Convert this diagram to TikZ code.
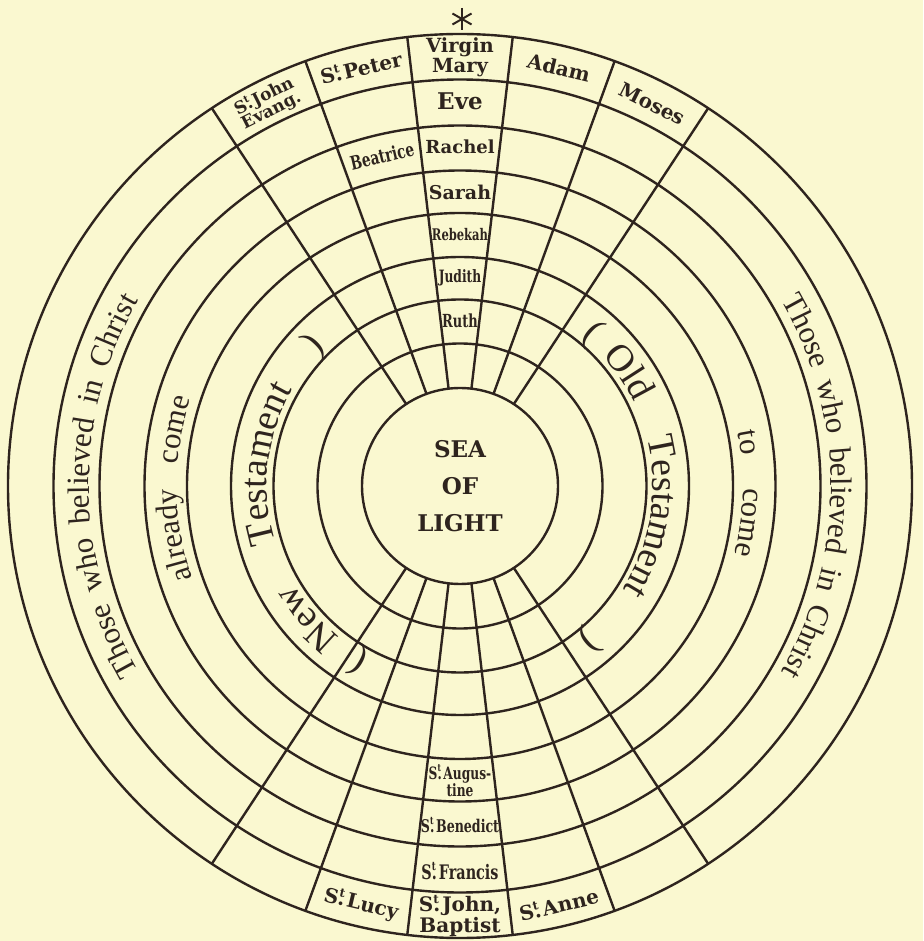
\documentclass[tikz,border=0pt]{standalone}
\usepackage{fontspec}
\usepackage{graphicx}
\usepackage{tikz}
\usetikzlibrary{decorations.text}

\definecolor{paper}{RGB}{250,248,208}
\definecolor{ink}{RGB}{46,36,30}

\newfontfamily\slabfont{DejaVu Serif}
\newfontfamily\narrowfont[FakeStretch=0.72]{DejaVu Serif}
\newfontfamily\ringserif{Liberation Serif}
\newcommand{\Snt}{S\rlap{\raisebox{.8ex}{\scalebox{.6}{t}}}.\kern.1em}
\newcommand{\ringfont}{\ringserif\fontsize{31}{31}\selectfont\color{ink}}
\newcommand{\testfont}{\ringserif\fontsize{38}{38}\selectfont\color{ink}}

\begin{document}
\begin{tikzpicture}[x=1pt, y=1pt,
        ring/.style={ink, line width=2.4pt},
        spoke/.style={ink, line width=2.4pt},
        cell/.style={inner sep=0pt, align=center, text=ink,
            font=\slabfont\bfseries\fontsize{20}{18}\selectfont},
        bigcell/.style={cell, font=\slabfont\bfseries\fontsize{19}{19}\selectfont},
        narrowcell/.style={cell, font=\narrowfont\bfseries\fontsize{17}{15}\selectfont},
        arctext/.style={decorate, decoration={text along path,
            text align={fit to path stretching spaces}, text={#1}}},
        arcword/.style={decorate, decoration={text along path,
            text align=center, text={#1}}}]
        \useasboundingbox (-460,-455) rectangle (463,486);
        \fill[paper] (-460,-455) rectangle (463,486);

        % the nine circles
        \foreach \r in {98,142.5,186.5,229,273,315.5,360.5,406.5,452}
            \draw[ring] (0,0) circle[radius=\r pt];

        % spokes above and below
        \foreach \a in {56.7,70,83.3,96.7,110,123.3,236.7,250,263.3,276.7,290,303.3}
            \draw[spoke] (\a:98pt) -- (\a:452pt);

        % star at the top
        \begin{scope}[shift={(2,467)}]
            \foreach \a in {90,30,150}
                \draw[ink, line width=2pt] (\a:11pt) -- (\a+180:11pt);
        \end{scope}

        \node[cell, font=\slabfont\bfseries\fontsize{23}{37}\selectfont] (sea) at (0,0) {SEA\\OF\\LIGHT};

        % top column
        \node[cell, font=\slabfont\bfseries\fontsize{19.5}{18}\selectfont] (mary) at (90:429pt) {Virgin\\Mary};
        \node[bigcell, font=\slabfont\bfseries\fontsize{23}{23}\selectfont] (eve) at (90:385pt) {Eve};
        \node[bigcell, font=\slabfont\bfseries\fontsize{18}{18}\selectfont] (rachel) at (90:339pt) {Rachel};
        \node[bigcell] (sarah) at (90:294pt) {Sarah};
        \node[narrowcell, font=\narrowfont\bfseries\fontsize{16}{16}\selectfont] (rebekah) at (90:251pt) {Rebekah};
        \node[narrowcell] (judith) at (90:208pt) {Judith};
        \node[narrowcell, font=\narrowfont\bfseries\fontsize{18}{18}\selectfont] (ruth) at (90:165pt) {Ruth};
        \node[narrowcell, font=\narrowfont\bfseries\fontsize{19}{19}\selectfont, rotate=13.3] (beatrice) at (103.3:339pt) {Beatrice};
        \node[cell, rotate=13.3] (peter) at (103.3:430pt) {\Snt Peter};
        \node[cell, rotate=26.7, font=\slabfont\bfseries\fontsize{17}{16}\selectfont] (john) at (116.7:428pt) {\Snt John\\Evang.};
        \node[cell, rotate=-13.3] (adam) at (76.7:430pt) {Adam};
        \node[cell, rotate=-26.7] (moses) at (63.3:428pt) {Moses};

        % bottom column
        \node[cell] (baptist) at (270:430pt) {\Snt John,\\Baptist};
        \node[cell, rotate=-13.3] (lucy) at (256.7:430pt) {\Snt Lucy};
        \node[cell, rotate=13.3] (anne) at (283.3:430pt) {\Snt Anne};
        \node[narrowcell, font=\narrowfont\bfseries\fontsize{20}{20}\selectfont] (francis) at (270:385pt) {\Snt Francis};
        \node[narrowcell, font=\narrowfont\bfseries\fontsize{17.5}{17.5}\selectfont] (benedict) at (270:339pt) {\Snt Benedict};
        \node[narrowcell] (augustine) at (270:295pt) {\Snt Augus-\\tine};

        % words round the rings, left half
        \path[arctext={|\ringfont|Those who believed in Christ}] (210:371pt) arc[start angle=210, end angle=150, radius=371pt];
        \path[arctext={|\ringfont|already come}] (199:283pt) arc[start angle=199, end angle=162, radius=283pt];
        \path[arcword={|\testfont|(}] (245:193pt) arc[start angle=245, end angle=235, radius=193pt];
        \path[arcword={|\testfont|New}] (236:193pt) arc[start angle=236, end angle=206, radius=193pt];
        \path[arcword={|\testfont|Testament}] (203:193pt) arc[start angle=203, end angle=144, radius=193pt];
        \path[arcword={|\testfont|)}] (141:193pt) arc[start angle=141, end angle=131, radius=193pt];

        % words round the rings, right half
        \path[arctext={|\ringfont|Those who believed in Christ}] (30:371pt) arc[start angle=30, end angle=-30, radius=371pt];
        \path[arctext={|\ringfont|to come}] (11:283pt) arc[start angle=11, end angle=-14, radius=283pt];
        \path[arcword={|\testfont|(}] (54:193pt) arc[start angle=54, end angle=44, radius=193pt];
        \path[arcword={|\testfont|Old}] (46:193pt) arc[start angle=46, end angle=22, radius=193pt];
        \path[arcword={|\testfont|Testament}] (20:193pt) arc[start angle=20, end angle=-38, radius=193pt];
        \path[arcword={|\testfont|)}] (-45:193pt) arc[start angle=-45, end angle=-55, radius=193pt];
\end{tikzpicture}
\end{document}
